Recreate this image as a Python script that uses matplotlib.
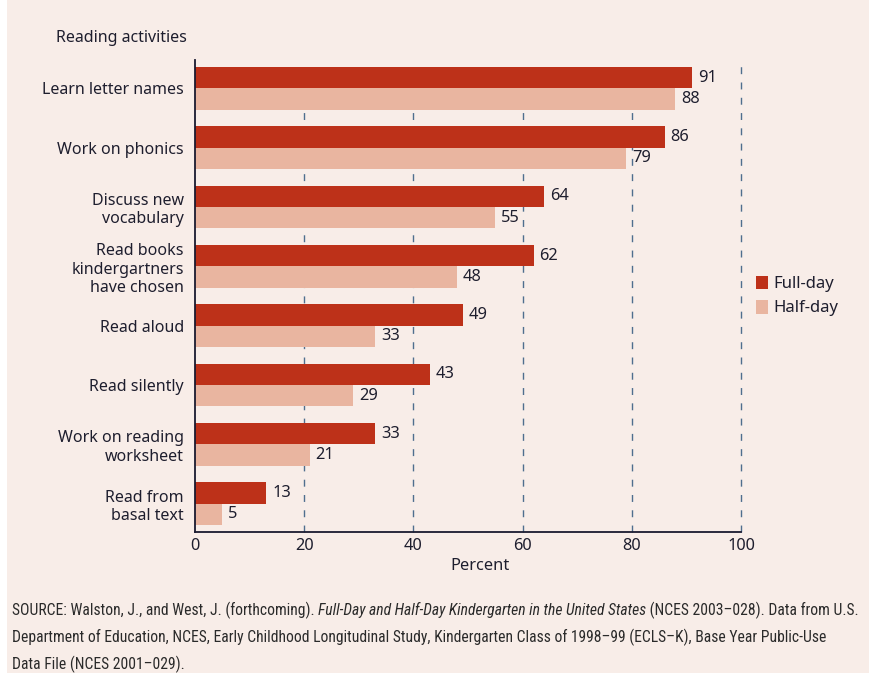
import matplotlib
matplotlib.use("Agg")
import matplotlib.pyplot as plt
from matplotlib.patches import Rectangle, Patch
from matplotlib import font_manager as fm
from matplotlib.offsetbox import TextArea, HPacker, AnchoredOffsetbox
import numpy as np

categories = ["Learn letter names", "Work on phonics", "Discuss new\nvocabulary",
              "Read books\nkindergartners\nhave chosen", "Read aloud", "Read silently",
              "Work on reading\nworksheet", "Read from\nbasal text"]
full_day = [91, 86, 64, 62, 49, 43, 33, 13]
half_day = [88, 79, 55, 48, 33, 29, 21, 5]
xticks = [0, 20, 40, 60, 80, 100]

source_parts = [("SOURCE: Walston, J., and West, J. (forthcoming). ", "normal"),
                ("Full-Day and Half-Day Kindergarten in the United States", "italic"),
                (" (NCES 2003\u2013028). Data from U.S.", "normal")]
source_line2 = ("Department of Education, NCES, Early Childhood Longitudinal Study, "
                "Kindergarten Class of 1998\u201399 (ECLS\u2013K), Base Year Public-Use")
source_line3 = "Data File (NCES 2001\u2013029)."

BG = "#F8EDE8"
FULL = "#BD3119"
HALF = "#E9B5A0"
TXT = "#1E1E2E"
GRID = "#4F6E8E"

names = {f.name for f in fm.fontManager.ttflist}
main_font = "Noto Sans" if "Noto Sans" in names else "DejaVu Sans"
narrow_candidates = ["Roboto Condensed", "Liberation Sans Narrow", "Noto Sans Condensed"]
narrow_font = next((n for n in narrow_candidates if n in names), "Roboto")
plt.rcParams['font.family'] = [main_font, "DejaVu Sans"]

W, H = 869, 686
fig = plt.figure(figsize=(W / 100, H / 100), dpi=100, facecolor="white")
renderer = fig.canvas.get_renderer()
fig.patches.append(Rectangle((7 / W, 13 / H), 1, 1, transform=fig.transFigure,
                             facecolor=BG, edgecolor="none", zorder=-10))

ax = fig.add_axes([195 / W, 1 - 532 / H, (741 - 195) / W, (532 - 60) / H])
ax.set_facecolor("none")

y = np.arange(len(categories))
bh = 0.36
ax.barh(y - bh / 2, full_day, height=bh, color=FULL, zorder=3, label="Full-day")
ax.barh(y + bh / 2, half_day, height=bh, color=HALF, zorder=3, label="Half-day")

for i in range(len(categories)):
    ax.text(full_day[i] + 1.1, y[i] - bh / 2, str(full_day[i]), va="center", ha="left",
            fontsize=11.8, color=TXT)
    ax.text(half_day[i] + 1.1, y[i] + bh / 2, str(half_day[i]), va="center", ha="left",
            fontsize=11.8, color=TXT)

ax.set_xlim(0, 100)
ax.set_ylim(len(categories) - 0.52, -0.48)
ax.set_xticks(xticks)
ax.set_xticklabels([str(t) for t in xticks], fontsize=11.8, color=TXT)
ax.set_yticks(y)
ax.set_yticklabels(categories, fontsize=11.5, color=TXT, ha="right", multialignment="right")
ax.tick_params(axis="both", length=0)
ax.tick_params(axis="y", pad=8)
ax.tick_params(axis="x", pad=4)

for t in xticks[1:]:
    ax.axvline(t, color=GRID, lw=1.0, linestyle=(0, (5, 6)), zorder=1, clip_on=False)

for s in ["top", "right"]:
    ax.spines[s].set_visible(False)
for s in ["left", "bottom"]:
    ax.spines[s].set_color("#1A1A30")
    ax.spines[s].set_linewidth(1.3)
    ax.spines[s].set_zorder(5)

fig.text(480 / W, 1 - 566 / H, "Percent", ha="center", va="center", fontsize=11.8, color=TXT)
fig.text(56 / W, 1 - 38 / H, "Reading activities", ha="left", va="center", fontsize=11.5, color=TXT)

handles = [Patch(facecolor=FULL, edgecolor="none"), Patch(facecolor=HALF, edgecolor="none")]
fig.legend(handles, ["Full-day", "Half-day"], loc="center left",
           bbox_to_anchor=(741 / W, 1 - 296 / H), frameon=False, fontsize=12,
           handlelength=0.7, handleheight=0.9, handletextpad=0.35, labelspacing=0.45,
           labelcolor=TXT)

# source note: fit line 1 width to the reference (~850 px)
target_w = 850.0
src_family = [narrow_font, "DejaVu Sans"]


def line1_width(fs):
    w = 0.0
    for t, st in source_parts:
        tt = fig.text(0, 0, t, fontsize=fs, family=src_family, style=st, weight="normal")
        w += tt.get_window_extent(renderer).width
        tt.remove()
    return w


fs = 14.0
w = line1_width(fs)
fs = min(fs * target_w / w, 14.0)

src_y = [610, 637, 664]
areas = [TextArea(t, textprops=dict(fontsize=fs, family=src_family, style=st,
                                    weight="normal", color="#2A2A2A"))
         for t, st in source_parts]
box = HPacker(children=areas, align="baseline", pad=0, sep=0)
ab = AnchoredOffsetbox(loc="center left", child=box, pad=0, frameon=False,
                       bbox_to_anchor=(12 / W, 1 - src_y[0] / H),
                       bbox_transform=fig.transFigure, borderpad=0)
fig.add_artist(ab)
fig.text(12 / W, 1 - src_y[1] / H, source_line2, ha="left", va="center", fontsize=fs,
         family=src_family, weight="normal", color="#2A2A2A")
fig.text(12 / W, 1 - src_y[2] / H, source_line3, ha="left", va="center", fontsize=fs,
         family=src_family, weight="normal", color="#2A2A2A")

fig.savefig("out.png", dpi=100, facecolor="white")
